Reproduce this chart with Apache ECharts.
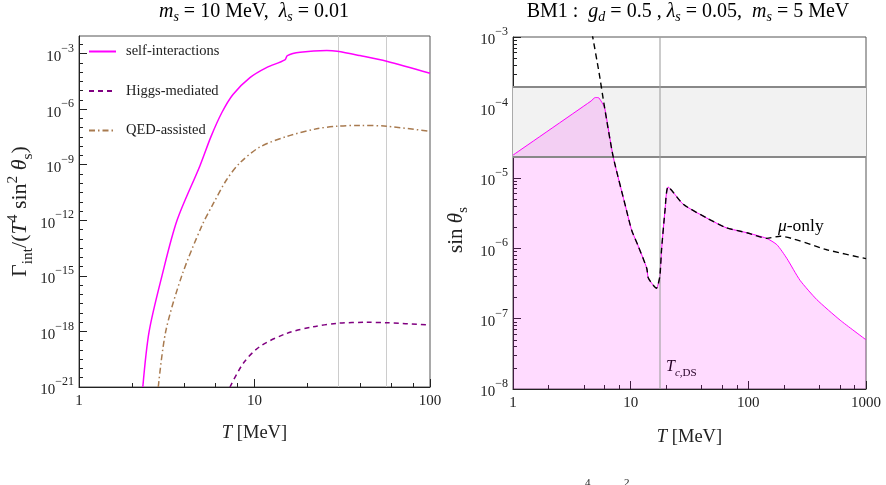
<!DOCTYPE html>
<html>
<head>
<meta charset="utf-8">
<script src="https://cdn.jsdelivr.net/npm/echarts@6/dist/echarts.min.js"></script>
<style>
html, body { margin: 0; padding: 0; background: #fff; }
#chart { width: 886px; height: 485px; }
</style>
</head>
<body>
<div id="chart"></div>
<script>
// left panel: m_s = 10 MeV, lambda_s = 0.01
const selfT = [2.31, 2.51, 2.97, 3.62, 4.89, 5.65, 6.52, 7.54, 9.42, 11.7, 14.9, 15.4, 18.2, 25.8, 29.6, 39.9, 56.6, 100]
const selfRate = [1e-21, 1e-18, 1e-15, 1e-12, 8.9e-10, 3.3e-8, 6.6e-7, 6.2e-6, 5.0e-5, 1.74e-4, 4.6e-4, 7.8e-4, 1.17e-3, 1.45e-3, 1.32e-3, 7.8e-4, 3.9e-4, 8.7e-5]

const higgsT = [7.25, 8.63, 10.7, 15.3, 21.6, 29.6, 43.6, 56.6, 100]
const higgsRate = [1e-21, 1.9e-20, 1.5e-19, 7.9e-19, 1.78e-18, 2.75e-18, 3.1e-18, 2.95e-18, 2.2e-18]

const qedT = [2.83, 3.12, 3.85, 5.01, 5.82, 6.95, 8.26, 10.7, 15.3, 22.6, 29.6, 39.9, 56.6, 100]
const qedRate = [1e-21, 1e-18, 1e-15, 5e-13, 7.9e-12, 1.6e-10, 1.26e-9, 8.9e-9, 3.4e-8, 8.7e-8, 1.2e-7, 1.32e-7, 1.2e-7, 6.3e-8]

const leftGuides = [30, 56]
const leftXLabels = [1, 10, 100]
const leftXMinor = [2, 4, 6, 8, 20, 40, 60, 80]
const leftYExp = [-21, -18, -15, -12, -9, -6, -3]

// right panel: BM1
const sinT = [1, 4.6, 5.0, 5.3, 5.6, 6.0, 7.1, 9.2, 10.2, 11.6, 13.7, 14.1, 15.5, 16.6, 17.7, 18.3, 19.6, 20.8, 28, 44, 65, 97, 143, 175, 212, 275, 382, 603, 1000]
const sinVal = [2.1e-5, 1.23e-4, 1.38e-4, 1.38e-4, 1.23e-4, 1.0e-4, 2.0e-5, 3.5e-6, 1.8e-6, 1.07e-6, 5.2e-7, 3.8e-7, 3.0e-7, 2.7e-7, 4.0e-7, 9.5e-7, 3.5e-6, 7.4e-6, 4.2e-6, 2.7e-6, 1.95e-6, 1.66e-6, 1.38e-6, 1.12e-6, 7.2e-7, 3.5e-7, 1.86e-7, 9.5e-8, 5.0e-8]

const muT = [4.7, 5.39, 6.0, 7.1, 9.2, 10.2, 11.6, 13.7, 14.1, 15.5, 16.6, 17.7, 18.3, 19.6, 20.8, 28, 44, 65, 97, 143, 186, 465, 1000]
const muVal = [1.12e-3, 3.1e-4, 1.0e-4, 2.0e-5, 3.5e-6, 1.8e-6, 1.07e-6, 5.2e-7, 3.8e-7, 3.0e-7, 2.7e-7, 4.0e-7, 9.5e-7, 3.5e-6, 7.4e-6, 4.2e-6, 2.7e-6, 1.95e-6, 1.66e-6, 1.38e-6, 1.48e-6, 9.5e-7, 7.1e-7]

const bandLow = 2e-5
const bandHigh = 2e-4
const tcDS = 17.7
const rightXLabels = [1, 10, 100, 1000]
const rightXMinor = [2, 4, 6, 8, 20, 40, 60, 80, 200, 400, 600, 800]
const rightYExp = [-8, -7, -6, -5, -4, -3]
const rightYMult = [2, 3, 4, 5, 6, 7, 8, 9]

const FONT = "'Liberation Serif', 'DejaVu Serif', serif"
const INK = '#222'
const lg = Math.log10

const pts = (xs, ys) => xs.map((x, i) => [lg(x), lg(ys[i])])

const rightYMinor = []
rightYExp.slice(0, -1).forEach(e => {
  rightYMult.forEach(k => rightYMinor.push(lg(k) + e))
})
const leftYMinor = []
for (let e = -20.5; e < -2.05; e += 0.5) {
  if (Math.abs(e % 3) > 0.01) leftYMinor.push(e)
}

const expLabel = v => {
  const e = Math.round(v)
  return '{b|10}{s|' + (e < 0 ? '−' + (-e) : e) + '}'
}
const tickRich = {
  b: { fontSize: 15, fontFamily: FONT, color: INK, lineHeight: 22, verticalAlign: 'bottom' },
  s: { fontSize: 12, fontFamily: FONT, color: INK, lineHeight: 12, verticalAlign: 'top' }
}
const mathRich = size => ({
  g: { fontSize: size, fontFamily: FONT, color: INK, lineHeight: size + 8, verticalAlign: 'middle' },
  i: { fontSize: size, fontFamily: FONT, color: INK, fontStyle: 'italic', lineHeight: size + 8, verticalAlign: 'middle' },
  sp: { fontSize: size * 0.7, fontFamily: FONT, color: INK, lineHeight: size * 0.7, verticalAlign: 'top' },
  sb: { fontSize: size * 0.7, fontFamily: FONT, color: INK, lineHeight: size * 0.8, verticalAlign: 'bottom' },
  sbi: { fontSize: size * 0.7, fontFamily: FONT, color: INK, fontStyle: 'italic', lineHeight: size * 0.8, verticalAlign: 'bottom' }
})
const titleRich = {
  r: { fontSize: 20, fontFamily: FONT, color: INK, lineHeight: 22, verticalAlign: 'top' },
  i: { fontSize: 20, fontFamily: FONT, color: INK, fontStyle: 'italic', lineHeight: 22, verticalAlign: 'top' },
  sb: { fontSize: 14, fontFamily: FONT, color: INK, fontStyle: 'italic', lineHeight: 12, verticalAlign: 'bottom' }
}

const mainX = (grid, min, max, labels, name, gap) => ({
  type: 'value', gridIndex: grid, min, max, position: 'bottom',
  axisLine: { show: true, onZero: false, lineStyle: { color: INK, width: 1 } },
  axisTick: { show: true, inside: true, length: 8, customValues: labels.map(lg), lineStyle: { color: INK } },
  axisLabel: {
    customValues: labels.map(lg), margin: 7, color: INK, fontSize: 15, fontFamily: FONT,
    formatter: v => String(Math.round(Math.pow(10, v)))
  },
  splitLine: { show: false },
  name, nameLocation: 'middle', nameGap: gap,
  nameTextStyle: { rich: mathRich(18.5) }
})
const minorX = (grid, min, max, ticks) => ({
  type: 'value', gridIndex: grid, min, max, position: 'bottom',
  axisLine: { show: false },
  axisTick: { show: true, inside: true, length: 4, customValues: ticks.map(lg), lineStyle: { color: INK } },
  axisLabel: { show: false },
  splitLine: { show: false }
})
const mainY = (grid, min, max, exps, name, gap, size, pad) => ({
  type: 'value', gridIndex: grid, min, max, position: 'left',
  axisLine: { show: true, onZero: false, lineStyle: { color: INK, width: 1 } },
  axisTick: { show: true, inside: true, length: 8, customValues: exps, lineStyle: { color: INK } },
  axisLabel: { customValues: exps, margin: 5, formatter: expLabel, rich: tickRich },
  splitLine: { show: false },
  name, nameLocation: 'middle', nameGap: gap, nameRotate: 90,
  nameTextStyle: { rich: mathRich(size), padding: pad }
})
const minorY = (grid, min, max, ticks) => ({
  type: 'value', gridIndex: grid, min, max, position: 'left',
  axisLine: { show: false },
  axisTick: { show: true, inside: true, length: 4, customValues: ticks, lineStyle: { color: INK } },
  axisLabel: { show: false },
  splitLine: { show: false }
})

const chart = echarts.init(document.getElementById('chart'))

const option = {
  animation: false,
  backgroundColor: '#fff',
  grid: [
    { left: 79, top: 36, width: 351, height: 351, show: true, borderColor: '#555', borderWidth: 1, outerBoundsMode: 'none' },
    { left: 513, top: 37, width: 353, height: 352, show: true, borderColor: '#555', borderWidth: 1, outerBoundsMode: 'none' }
  ],
  legend: {
    data: ['self-interactions', 'Higgs-mediated', 'QED-assisted'],
    orient: 'vertical', left: 88, top: 44, padding: 0,
    itemWidth: 27, itemHeight: 14, itemGap: 24.5,
    itemStyle: { color: 'rgba(0,0,0,0)', borderColor: 'rgba(0,0,0,0)', borderWidth: 0 },
    textStyle: { fontFamily: FONT, fontSize: 14.5, color: INK, padding: [0, 0, 0, 5] }
  },
  xAxis: [
    mainX(0, 0, 2, leftXLabels, '{i|T}{g| [MeV]}', 33),
    minorX(0, 0, 2, leftXMinor),
    mainX(1, 0, 3, rightXLabels, '{i|T}{g| [MeV]}', 35),
    minorX(1, 0, 3, rightXMinor)
  ],
  yAxis: [
    mainY(0, -21, -2.05, leftYExp, '{g|Γ}{sb|int}{g|/(}{i|T}{sp|4}{g| sin}{sp|2}{g| }{i|θ}{sb|s}{g|)}', 44, 22, 0),
    minorY(0, -21, -2.05, leftYMinor),
    mainY(1, -8, -3, rightYExp, '{g|sin }{i|θ}{sb|s}', 42, 21, [0, 34, 0, 0]),
    minorY(1, -8, -3, rightYMinor)
  ],
  series: [
    {
      name: 'self-interactions', type: 'line', xAxisIndex: 0, yAxisIndex: 0,
      data: pts(selfT, selfRate), symbol: 'none', smooth: 0.3, z: 4,
      lineStyle: { color: '#ff00ff', width: 1.5 }, itemStyle: { color: '#ff00ff' },
      markLine: {
        silent: true, symbol: 'none', label: { show: false }, z: 1,
        lineStyle: { color: '#cccccc', width: 1, type: 'solid' },
        data: leftGuides.map(t => ({ xAxis: lg(t) }))
      }
    },
    {
      name: 'Higgs-mediated', type: 'line', xAxisIndex: 0, yAxisIndex: 0,
      data: pts(higgsT, higgsRate), symbol: 'none', smooth: 0.3, z: 4,
      lineStyle: { color: '#800080', width: 1.5, type: [5, 4] }, itemStyle: { color: '#800080' }
    },
    {
      name: 'QED-assisted', type: 'line', xAxisIndex: 0, yAxisIndex: 0,
      data: pts(qedT, qedRate), symbol: 'none', smooth: 0.3, z: 4,
      lineStyle: { color: '#a87a4f', width: 1.5, type: [6, 3, 1.5, 3] }, itemStyle: { color: '#a87a4f' }
    },
    {
      name: 'band', type: 'line', xAxisIndex: 2, yAxisIndex: 2, data: [], z: 1,
      markArea: {
        silent: true,
        itemStyle: { color: '#f2f2f2' },
        data: [[{ yAxis: lg(bandLow) }, { yAxis: lg(bandHigh) }]]
      }
    },
    {
      name: 'sin', type: 'line', xAxisIndex: 2, yAxisIndex: 2,
      data: pts(sinT, sinVal), symbol: 'none', smooth: 0.2, z: 3,
      lineStyle: { color: '#ff00ff', width: 1 },
      areaStyle: { color: 'rgba(255, 0, 255, 0.2)', origin: 'start' }
    },
    {
      name: 'mu', type: 'line', xAxisIndex: 2, yAxisIndex: 2,
      data: pts(muT, muVal), symbol: 'none', smooth: 0.2, z: 5,
      lineStyle: { color: '#000', width: 1.4, type: [6, 4] }
    },
    {
      name: 'guides', type: 'line', xAxisIndex: 2, yAxisIndex: 2, data: [], z: 4,
      markLine: {
        silent: true, symbol: 'none', label: { show: false },
        data: [
          { yAxis: lg(bandLow), lineStyle: { color: '#888', width: 2, type: 'solid' } },
          { yAxis: lg(bandHigh), lineStyle: { color: '#888', width: 2, type: 'solid' } },
          { xAxis: lg(tcDS), lineStyle: { color: 'rgba(160,160,160,0.55)', width: 2, type: 'solid' } }
        ]
      }
    }
  ],
  graphic: [
    {
      type: 'text', x: 254, y: 13,
      style: {
        text: '{i|m}{sb|s}{r| = 10 MeV,  }{i|λ}{sb|s}{r| = 0.01}',
        align: 'center', verticalAlign: 'middle', rich: titleRich
      }
    },
    {
      type: 'text', x: 688, y: 13,
      style: {
        text: '{r|BM1 :  }{i|g}{sb|d}{r| = 0.5 , }{i|λ}{sb|s}{r| = 0.05,  }{i|m}{sb|s}{r| = 5 MeV}',
        align: 'center', verticalAlign: 'middle', rich: titleRich
      }
    },
    {
      type: 'text', x: 778, y: 226,
      style: {
        text: '{i|μ}{g|-only}', align: 'left', verticalAlign: 'middle',
        rich: { i: { fontSize: 17.5, fontFamily: FONT, fontStyle: 'italic', color: INK }, g: { fontSize: 17.5, fontFamily: FONT, color: INK } }
      }
    },
    {
      type: 'text', x: 666, y: 369,
      style: {
        text: '{i|T}{sbi|c}{sb|,DS}', align: 'left', verticalAlign: 'middle',
        rich: {
          i: { fontSize: 16, fontFamily: FONT, fontStyle: 'italic', color: INK, lineHeight: 20, verticalAlign: 'top' },
          sbi: { fontSize: 11, fontFamily: FONT, fontStyle: 'italic', color: INK, lineHeight: 10, verticalAlign: 'bottom' },
          sb: { fontSize: 11, fontFamily: FONT, color: INK, lineHeight: 10, verticalAlign: 'bottom' }
        }
      }
    },
    { type: 'text', x: 585, y: 478, style: { text: '4', fontSize: 11, fontFamily: FONT, fill: INK } },
    { type: 'text', x: 624, y: 478, style: { text: '2', fontSize: 11, fontFamily: FONT, fill: INK } }
  ]
}

chart.setOption(option)
</script>
</body>
</html>
